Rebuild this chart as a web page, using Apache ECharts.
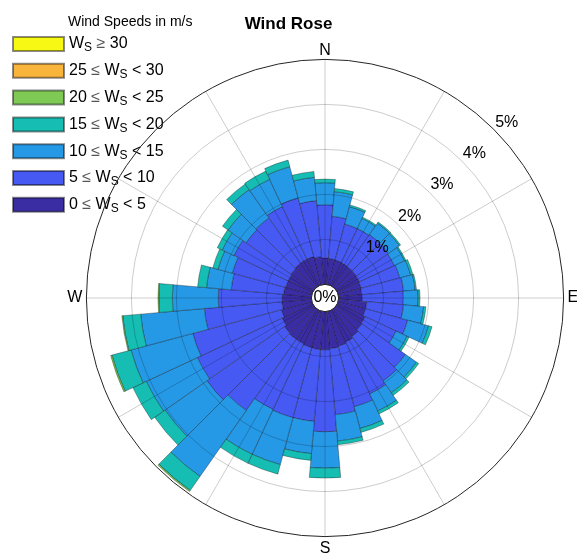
<!DOCTYPE html>
<html>
<head>
<meta charset="utf-8">
<title>Wind Rose</title>
<script src="https://cdn.jsdelivr.net/npm/echarts@6/dist/echarts.min.js"></script>
<style>
html, body { margin: 0; padding: 0; background: #fff; }
#chart { width: 577px; height: 554px; }
</style>
</head>
<body>
<div id="chart"></div>
<script>
// directions (deg, clockwise from north) - bars are 10 deg wide
var directions = ['0','10','20','30','40','50','60','70','80','90','100','110',
  '120','130','140','150','160','170','180','190','200','210','220','230',
  '240','250','260','270','280','290','300','310','320','330','340','350'];

// lower limit of each speed bin (m/s)
var binLower = [0, 5, 10, 15, 20, 25, 30];
var binColors = ['#3a2ca3', '#4659f3', '#2598e6', '#15bdb3', '#7fc955', '#f9b43c', '#f7f915'];

// frequency (%) for each direction, per speed bin
var ws0to5 = [0.59,0.58,0.57,0.56,0.55,0.55,0.54,0.53,0.52,0.52,0.63,0.63,
  0.68,0.70,0.74,0.78,0.81,0.83,0.85,0.85,0.84,0.82,0.82,0.80,
  0.75,0.70,0.66,0.65,0.62,0.60,0.60,0.62,0.64,0.65,0.65,0.62];
var ws5to10 = [1.18,0.94,0.83,0.84,0.87,0.87,0.86,0.89,0.93,0.92,0.82,0.97,
  0.76,1.18,1.21,1.27,1.39,1.47,1.82,1.60,1.61,1.61,1.93,2.10,
  2.08,2.04,1.73,1.42,1.17,1.23,1.33,1.22,1.23,1.29,1.35,1.25];
var ws10to15 = [0.49,0.55,0.40,0.25,0.31,0.30,0.25,0.25,0.26,0.33,0.45,0.48,
  0.27,0.30,0.32,0.42,0.50,0.59,0.81,0.72,1.08,1.10,1.79,1.14,
  1.25,1.42,1.42,1.02,0.55,0.33,0.29,0.49,0.77,0.67,0.72,0.52];
var ws15to20 = [0.08,0.07,0.04,0.03,0.03,0.03,0.03,0.05,0.03,0.04,0.05,0.08,
  0.05,0.06,0.07,0.07,0.09,0.08,0.22,0.15,0.22,0.22,0.38,0.28,
  0.33,0.44,0.40,0.30,0.20,0.12,0.12,0.15,0.15,0.20,0.15,0.13];
var ws20to25 = [0,0,0,0,0,0,0,0,0,0,0,0,
  0,0,0,0,0,0,0,0,0,0,0.03,0,
  0,0.03,0.02,0.02,0,0,0,0,0,0,0,0];
var ws25to30 = [0,0,0,0,0,0,0,0,0,0,0,0,
  0,0,0,0,0,0,0,0,0,0,0,0,
  0,0,0,0,0,0,0,0,0,0,0,0];
var ws30up = [0,0,0,0,0,0,0,0,0,0,0,0,
  0,0,0,0,0,0,0,0,0,0,0,0,
  0,0,0,0,0,0,0,0,0,0,0,0];
var binValues = [ws0to5, ws5to10, ws10to15, ws15to20, ws20to25, ws25to30, ws30up];

var radiusTicks = [0, 1, 2, 3, 4, 5];   // percent rings
var compassLabels = {0: '{n|N}', 90: '{ew|E}', 180: '{s|S}', 270: '{ew|W}'};

var FONT = 'Liberation Sans, Arial, Helvetica, sans-serif';
var CENTER = [325, 298];

// legend text with subscript S
function binLabel(i) {
    var lo = binLower[i];
    if (i === binLower.length - 1) {
        return '{t|W}{s|S}{op| ≥ }{t|' + lo + '}';
    }
    return '{t|' + lo + ' }{op|≤}{t| W}{s|S}{t| < ' + binLower[i + 1] + '}';
}

var series = [];
for (var i = 0; i < binValues.length; i++) {
    series.push({
        name: 'bin' + i,
        type: 'bar',
        coordinateSystem: 'polar',
        polarIndex: 0,
        stack: 'ws',
        barCategoryGap: '0%',
        itemStyle: {
            color: binColors[i],
            borderColor: 'rgba(0,0,0,0.45)',
            borderWidth: 0.7
        },
        data: binValues[i].map(function (v) { return v > 0 ? v : '-'; })
    });
}

var legendData = [];
for (var j = binLower.length - 1; j >= 0; j--) legendData.push('bin' + j);

var myChart = echarts.init(document.getElementById('chart'), null, {renderer: 'canvas'});
var option = {
    backgroundColor: '#ffffff',
    animation: false,
    textStyle: {fontFamily: FONT},
    title: [{
        text: 'Wind Rose',
        left: 'center',
        top: 11,
        textStyle: {fontSize: 17, fontWeight: 'bold', color: '#000', fontFamily: FONT}
    }, {
        text: 'Wind Speeds in m/s',
        left: 63,
        top: 10,
        textStyle: {fontSize: 14, fontWeight: 'normal', color: '#000', fontFamily: FONT}
    }],
    legend: {
        orient: 'vertical',
        left: 7,
        top: 31,
        itemWidth: 51,
        itemHeight: 14,
        itemGap: 8.8,
        icon: 'rect',
        selectedMode: false,
        data: legendData,
        formatter: function (name) { return binLabel(+name.slice(3)); },
        textStyle: {
            rich: {
                t: {fontSize: 16, color: '#000', fontFamily: FONT, lineHeight: 20, verticalAlign: 'middle'},
                op: {fontSize: 16, color: '#555', fontFamily: FONT, lineHeight: 20, verticalAlign: 'middle'},
                s: {fontSize: 12, color: '#000', fontFamily: FONT, lineHeight: 12, verticalAlign: 'bottom'}
            }
        }
    },
    polar: [
        {center: CENTER, radius: [13.6, 238.6]},
        {center: CENTER, radius: [13.6, 238.6]},
        {center: CENTER, radius: [27.6, 252.6]}
    ],
    angleAxis: [{
        // bars
        polarIndex: 0,
        type: 'category',
        data: directions,
        startAngle: 95,
        clockwise: true,
        boundaryGap: true,
        show: false
    }, {
        // spokes, outer circle, compass labels
        polarIndex: 1,
        type: 'value',
        min: 0,
        max: 360,
        interval: 30,
        startAngle: 90,
        clockwise: true,
        z: 5,
        axisLine: {lineStyle: {color: '#262626', width: 1}},
        axisTick: {show: false},
        axisLabel: {
            margin: 4,
            fontSize: 16,
            color: '#000',
            fontFamily: FONT,
            formatter: function (v) { return compassLabels[v] || ''; },
            rich: {
                n: {fontSize: 16, fontFamily: FONT, color: '#000', lineHeight: 9},
                s: {fontSize: 16, fontFamily: FONT, color: '#000', lineHeight: 15},
                ew: {fontSize: 16, fontFamily: FONT, color: '#000', lineHeight: 16}
            }
        },
        splitLine: {lineStyle: {color: 'rgba(0,0,0,0.2)', width: 1}}
    }, {
        polarIndex: 2,
        type: 'value',
        min: 0,
        max: 360,
        startAngle: 44,
        show: false
    }],
    radiusAxis: [{
        polarIndex: 0,
        type: 'value',
        min: 0,
        max: 5,
        show: false
    }, {
        polarIndex: 1,
        type: 'value',
        min: radiusTicks[0],
        max: radiusTicks[radiusTicks.length - 1],
        interval: 1,
        z: 5,
        axisLine: {show: false},
        axisTick: {show: false},
        axisLabel: {show: false},
        splitLine: {
            lineStyle: {
                color: ['rgba(0,0,0,0)', 'rgba(0,0,0,0.2)', 'rgba(0,0,0,0.2)',
                    'rgba(0,0,0,0.2)', 'rgba(0,0,0,0.2)', 'rgba(0,0,0,0)'],
                width: 1
            }
        }
    }, {
        // percent labels along the NE direction
        polarIndex: 2,
        type: 'value',
        min: radiusTicks[0],
        max: radiusTicks[radiusTicks.length - 1],
        interval: 1,
        z: 6,
        axisLine: {show: false},
        axisTick: {show: false},
        splitLine: {show: false},
        axisLabel: {
            margin: 0,
            align: 'center',
            verticalAlign: 'middle',
            fontSize: 16,
            color: '#000',
            fontFamily: FONT,
            formatter: function (v) { return v === 0 ? '' : v + '%'; }
        }
    }],
    graphic: [{
        type: 'text',
        x: CENTER[0],
        y: CENTER[1],
        z: 100,
        style: {
            text: radiusTicks[0] + '%',
            fontSize: 16,
            fontFamily: FONT,
            fill: '#000',
            align: 'center',
            verticalAlign: 'middle'
        }
    }],
    series: series
};
myChart.setOption(option);
</script>
</body>
</html>
